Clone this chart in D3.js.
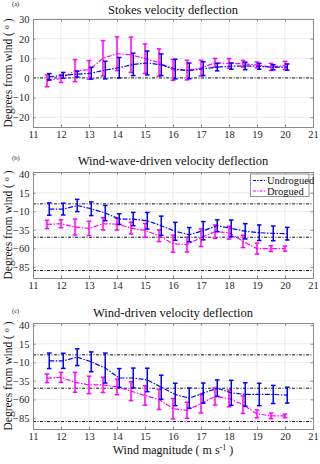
<!DOCTYPE html>
<html><head><meta charset="utf-8">
<script src="https://cdn.jsdelivr.net/npm/d3@7"></script>
<style>body{margin:0;background:#fff}svg{display:block}text{font-family:"Liberation Serif","Times New Roman",serif}</style>
</head><body><svg id="c" width="320" height="464"></svg>
<script>
const wind = [11.5,12,12.5,13,13.5,14,14.5,15,15.5,16,16.5,17,17.5,18,18.5,19,19.5,20];
const xTicks = [11,12,13,14,15,16,17,18,19,20,21];
const seriesNames = ["Undrogued","Drogued"];
const panelTitles = ["Stokes velocity deflection","Wind-wave-driven velocity deflection","Wind-driven velocity deflection"];
const panelLetters = ["(a)","(b)","(c)"];
const yTicksA = [30,20,10,0,-10,-20];
const yTicksBC = [40,15,-10,-35,-60,-85];
const refLinesA = [0];
const refLinesBC = [0,-45,-90];

// Panel a: Stokes
const stokesUndrogued = [0.6,1.3,1.9,2.4,4.0,5.2,6.9,7.6,6.7,4.5,3.6,4.7,5.5,6.0,6.1,5.9,5.4,5.5];
const stokesUndroguedErr = [1.6,1.5,1.5,3.0,4.5,5.2,5.7,6.1,5.5,5.0,4.0,3.5,1.9,1.6,1.9,1.5,1.3,1.6];
const stokesDrogued = [-1.5,-0.3,3.7,4.1,10.0,12.3,11.8,9.8,7.8,4.1,4.0,5.0,7.7,7.4,7.2,6.6,5.6,6.3];
const stokesDroguedErr = [3.0,2.0,5.6,4.7,9.0,8.6,9.0,7.5,7.0,5.3,5.0,4.0,2.2,2.4,1.7,1.5,1.8,2.1];
// Panel b: wind-wave-driven
const wwUndrogued = [-7,-7,-2.2,-6.6,-12.4,-20.5,-20.5,-22.8,-29.5,-37,-41.6,-36.2,-29.5,-33,-37,-38.9,-39.8,-40.2];
const wwUndroguedErr = [8.3,8,8.3,9.2,10.3,7.2,9,11.2,13,12.1,9.6,12.3,8,11.2,10.3,10.5,10,8.5];
const wwDrogued = [-27.7,-26.8,-31.3,-33.1,-26.8,-27.3,-32.6,-35.8,-43,-53.7,-55,-45.6,-37.5,-38.9,-50.6,-60.4,-60.4,-60.4];
const wwDroguedErr = [5.6,5.4,10.8,9.6,8.3,8,8,9.4,7.8,11.4,9.9,11.9,9,8.7,8.3,7.4,3.8,3.4];
// Panel c: wind-driven
const wdUndrogued = [-8,-8,-3.1,-9.4,-17.8,-31.2,-31.2,-33.8,-43.6,-53.4,-58.3,-51.6,-44.9,-51.2,-53.4,-53.4,-53.4,-54.3];
const wdUndroguedErr = [10.5,10.2,11.3,13.4,20.2,12.7,13.4,15.8,16.2,15.1,13.6,13.6,11.1,16.9,15.8,15.1,12.2,10.7];
const wdDrogued = [-31.6,-30.3,-37,-40.5,-40.5,-43.2,-49,-54.8,-60.1,-72.6,-74.8,-65.9,-56.1,-58.7,-67.2,-79.6,-82.3,-82.3];
const wdDroguedErr = [5.8,6.7,13.4,11.8,10.2,10.5,12.7,13.1,13.6,13.8,10.9,12.5,11.6,11.3,11.8,5.3,3.8,2.4];

const colors = ["#0000ff","#ff00ff"];
const xShift = [0.08, 0];
const svg = d3.select("#c");
const L = 33, R = 313;
const x = d3.scaleLinear().domain([11,21]).range([L,R]);

const panels = [
  {top:19,bottom:127,dom:[-25,30],ticks:yTicksA,refs:refLinesA,u:stokesUndrogued,ue:stokesUndroguedErr,d:stokesDrogued,de:stokesDroguedErr,titleY:13.5,letterY:6},
  {top:172,bottom:278,dom:[-100,43],ticks:yTicksBC,refs:refLinesBC,u:wwUndrogued,ue:wwUndroguedErr,d:wwDrogued,de:wwDroguedErr,titleY:165,letterY:160,legend:true},
  {top:323,bottom:429,dom:[-100,43],ticks:yTicksBC,refs:refLinesBC,u:wdUndrogued,ue:wdUndroguedErr,d:wdDrogued,de:wdDroguedErr,titleY:316.5,letterY:313,xlabel:true}
];

const axisCol = "#8a8a8a", textCol = "#262626";
panels.forEach((p,pi)=>{
  const y = d3.scaleLinear().domain(p.dom).range([p.bottom,p.top]);
  const g = svg.append("g");
  g.append("rect").attr("x",L).attr("y",p.top).attr("width",R-L).attr("height",p.bottom-p.top).attr("fill","#fff");
  // grid
  g.selectAll(".gx").data(xTicks.slice(1,-1)).join("line").attr("x1",d=>x(d)).attr("x2",d=>x(d)).attr("y1",p.top).attr("y2",p.bottom).attr("stroke","#e6e6e6").attr("stroke-width",0.8);
  g.selectAll(".gy").data(p.ticks).join("line").attr("x1",L).attr("x2",R).attr("y1",d=>y(d)).attr("y2",d=>y(d)).attr("stroke","#e6e6e6").attr("stroke-width",0.8);
  // ref lines
  g.selectAll(".ref").data(p.refs).join("line").attr("x1",L).attr("x2",R).attr("y1",d=>y(d)).attr("y2",d=>y(d)).attr("stroke","#111").attr("stroke-width",1).attr("stroke-dasharray","3,1.5,1,1.5");
  // axes
  const ax = d3.axisBottom(x).tickValues(xTicks).tickSize(-2.5).tickPadding(3.5).tickFormat(d3.format("d"));
  const gx = g.append("g").attr("transform",`translate(0,${p.bottom})`).call(ax);
  const gxt = g.append("g").attr("transform",`translate(0,${p.top})`).call(d3.axisTop(x).tickValues(xTicks).tickSize(-2.5).tickFormat(""));
  const ay = d3.axisLeft(y).tickValues(p.ticks).tickSize(-2.5).tickPadding(3.5);
  const gy = g.append("g").attr("transform",`translate(${L},0)`).call(ay);
  const gyr = g.append("g").attr("transform",`translate(${R},0)`).call(d3.axisRight(y).tickValues(p.ticks).tickSize(-2.5).tickFormat(""));
  [gx,gxt,gy,gyr].forEach(a=>{
    a.attr("font-family",null);
    a.select(".domain").attr("stroke",axisCol).attr("stroke-width",1);
    a.selectAll(".tick line").attr("stroke",axisCol);
    a.selectAll("text").attr("fill",textCol).attr("font-size",10.5);
  });
  gx.selectAll(".tick line").filter(d=>d===11||d===21).remove();
  // series
  const series = [[p.u,p.ue],[p.d,p.de]];
  [1,0].forEach(si=>{
    const [vals,errs] = series[si];
    const pts = wind.map((w,i)=>({x:w+xShift[si],v:vals[i],e:errs[i]}));
    const line = d3.line().x(d=>x(d.x)).y(d=>y(d.v));
    g.append("path").datum(pts).attr("d",line).attr("fill","none").attr("stroke",colors[si]).attr("stroke-width",1.2).attr("stroke-dasharray","5,1.5,1.5,1.5");
    const eb = g.append("g").attr("stroke",colors[si]).attr("stroke-width",1.5);
    eb.selectAll(".v").data(pts).join("line").attr("x1",d=>x(d.x)).attr("x2",d=>x(d.x)).attr("y1",d=>y(d.v-d.e)).attr("y2",d=>y(d.v+d.e));
    eb.selectAll(".t").data(pts).join("line").attr("x1",d=>x(d.x)-2.3).attr("x2",d=>x(d.x)+2.3).attr("y1",d=>y(d.v+d.e)).attr("y2",d=>y(d.v+d.e));
    eb.selectAll(".b").data(pts).join("line").attr("x1",d=>x(d.x)-2.3).attr("x2",d=>x(d.x)+2.3).attr("y1",d=>y(d.v-d.e)).attr("y2",d=>y(d.v-d.e));
  });
  // title, letter
  svg.append("text").attr("x",(L+R)/2).attr("y",p.titleY).attr("text-anchor","middle").attr("font-size",12.5).attr("fill","#111").text(panelTitles[pi]);
  svg.append("text").attr("x",12).attr("y",p.letterY).attr("font-size",6.5).attr("fill","#111").text(panelLetters[pi]);
  // y label
  const yl = svg.append("text").attr("transform",`translate(12,${(p.top+p.bottom)/2}) rotate(-90)`).attr("text-anchor","middle").attr("font-size",11.5).attr("fill","#111");
  yl.append("tspan").text("Degrees from wind ( ");
  yl.append("tspan").attr("font-size",8).attr("dy",-3).text("o");
  yl.append("tspan").attr("dy",3).text(" )");
  if(p.legend){
    const lg = svg.append("g").attr("transform","translate(250.5,174)");
    lg.append("rect").attr("width",58.5).attr("height",22.5).attr("fill","#fff").attr("stroke","#777").attr("stroke-width",0.8);
    seriesNames.forEach((n,i)=>{
      const yy = 6.5 + i*10.5;
      lg.append("line").attr("x1",2.5).attr("x2",16).attr("y1",yy).attr("y2",yy).attr("stroke",colors[i]).attr("stroke-width",1.2).attr("stroke-dasharray","3,1.2,1.2,1.2");
      lg.append("text").attr("x",16.5).attr("y",yy+3.5).attr("font-size",10.5).attr("fill","#111").text(n);
    });
  }
  if(p.xlabel){
    const xl = svg.append("text").attr("x",(L+R)/2).attr("y",454).attr("text-anchor","middle").attr("font-size",12).attr("fill","#111");
    xl.append("tspan").text("Wind magnitude ( m s");
    xl.append("tspan").attr("font-size",8).attr("dy",-4).text("-1");
    xl.append("tspan").attr("dy",4).text(" )");
  }
});
</script></body></html>
